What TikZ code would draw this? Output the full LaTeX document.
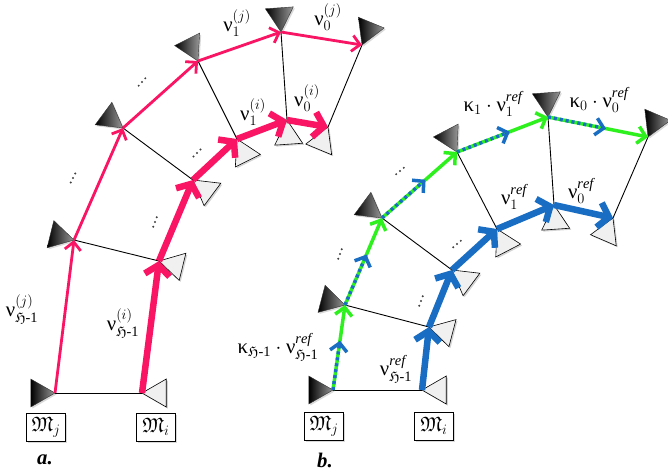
\documentclass[tikz,border=0pt]{standalone}
\usepackage{amsmath,amssymb}
\usepackage{fontspec}
\setmainfont{Liberation Serif}
\usetikzlibrary{arrows.meta,calc,shadows}

\definecolor{pinkline}{RGB}{250,20,100}
\definecolor{blueline}{RGB}{25,110,195}
\definecolor{greenline}{RGB}{45,240,30}

\newcommand{\vnu}{\text{ν}}
\newcommand{\vkappa}{\text{κ}}

\tikzset{
  darktri/.style={left color=black, right color=black!40, draw=black!80, line width=.4pt,
    drop shadow={shadow xshift=1.5pt,shadow yshift=-1.5pt,opacity=.3}},
  lighttri/.style={fill=black!6, draw=black, line width=.6pt,
    drop shadow={shadow xshift=1.5pt,shadow yshift=-1.5pt,opacity=.35}},
  rung/.style={line width=.9pt},
  thinpink/.style={pinkline, line width=2.8pt, -{Straight Barb[length=8pt,width=16pt]}},
  thickpink/.style={pinkline, line width=6.5pt, -{Straight Barb[length=10pt,width=25pt]}},
  thickblue/.style={blueline, line width=6.5pt, -{Straight Barb[length=10pt,width=25pt]}},
  greenarr/.style={greenline, line width=3.5pt, -{Straight Barb[length=8pt,width=17pt]}},
  bluedots/.style={blueline, line width=3.5pt, dash pattern=on 3pt off 3pt,
    -{Straight Barb[length=8pt,width=17pt]}},
  mbox/.style={draw, fill=white, line width=.8pt, minimum width=39pt, minimum height=28pt,
    inner sep=0pt, drop shadow={shadow xshift=1.5pt,shadow yshift=-1.5pt,opacity=.3}}
}

\begin{document}
\begin{tikzpicture}[x=1pt,y=-1pt,font=\huge]
	\useasboundingbox (0,0) rectangle (668,475);
	% a.
	\coordinate (J0) at (55,393);
	\coordinate (J1) at (74,240);
	\coordinate (J2) at (123,128);
	\coordinate (J3) at (198,61);
	\coordinate (J4) at (281,32);
	\coordinate (J5) at (362,45);
	\coordinate (I0) at (142,393);
	\coordinate (I1) at (159,261);
	\coordinate (I2) at (193,180);
	\coordinate (I3) at (237,139);
	\coordinate (I4) at (287,120);
	\coordinate (I5) at (328,127);
	% b.
	\coordinate (K0) at (333,390);
	\coordinate (K1) at (345,305);
	\coordinate (K2) at (382,218);
	\coordinate (K3) at (457,152);
	\coordinate (K4) at (548,117);
	\coordinate (K5) at (648,137);
	\coordinate (L0) at (422,390);
	\coordinate (L1) at (429,327);
	\coordinate (L2) at (452,270);
	\coordinate (L3) at (497,229);
	\coordinate (L4) at (554,205);
	\coordinate (L5) at (613,218);

	\foreach \p/\q in {J0/I0,J1/I1,J2/I2,J3/I3,J4/I4,J5/I5,K0/L0,K1/L1,K2/L2,K3/L3,K4/L4,K5/L5}
		\draw[rung] (\p) -- (\q);
	\foreach \p/\q in {J0/I0,J1/I1,J2/I2,J3/I3,J4/I4,J5/I5,K0/L0,K1/L1,K2/L2,K3/L3,K4/L4,K5/L5}
		\path[darktri] (\p) -- ($(\p)!28pt!150:(\q)$) -- ($(\p)!28pt!210:(\q)$) -- cycle;
	\foreach \p/\q in {I0/J0,I1/J1,I2/J2,I3/J3,I4/J4,I5/J5,L0/K0,L1/K1,L2/K2,L3/K3,L4/K4,L5/K5}
		\path[lighttri] (\p) -- ($(\p)!28pt!150:(\q)$) -- ($(\p)!28pt!210:(\q)$) -- cycle;

	\foreach \p/\q in {J0/J1,J1/J2,J2/J3,J3/J4,J4/J5}
		\draw[thinpink] (\p) -- (\q);
	\foreach \p/\q in {I0/I1,I1/I2,I2/I3,I3/I4,I4/I5}
		\draw[thickpink] (\p) -- (\q);
	\foreach \p/\q in {L0/L1,L1/L2,L2/L3,L3/L4,L4/L5}
		\draw[thickblue] (\p) -- (\q);
	\foreach \p/\q in {K0/K1,K1/K2,K2/K3,K3/K4,K4/K5}{
		\draw[greenarr] (\p) -- (\q);
		\draw[bluedots] (\p) -- ($(\p)!.58!(\q)$);
	}

	% dots between the rungs
	\foreach \x/\y/\a in {73/178/63,142/82/48,197/153/45,155/222/70,340/254/70,400/171/40,421/301/70,457/244/40}
		\foreach \t in {-1,0,1}
			\fill[black!75] ($(\x,\y)+(-\a:\t*5)$) circle (1.1pt);

	\node (vj1) at (237,23) {$\vnu_1^{(j)}$};
	\node (vj0) at (328,17) {$\vnu_0^{(j)}$};
	\node (vi1) at (253,112) {$\vnu_1^{(i)}$};
	\node (vi0) at (307,98) {$\vnu_0^{(i)}$};
	\node (vjh) at (22,309) {$\vnu_{\mathfrak{H}\text{-1}}^{(j)}$};
	\node (vih) at (123,323) {$\vnu_{\mathfrak{H}\text{-1}}^{(i)}$};
	\node[mbox] (Mja) at (46,427) {$\mathfrak{M}_j$};
	\node[mbox] (Mia) at (156,427) {$\mathfrak{M}_i$};
	\node (la) at (45,460) {\textbf{\textit{a.}}};

	\node (k1) at (493,104) {$\vkappa_1\cdot\vnu_1^{\mathit{ref}}$};
	\node (k0) at (599,100) {$\vkappa_0\cdot\vnu_0^{\mathit{ref}}$};
	\node (r1) at (514,197) {$\vnu_1^{\mathit{ref}}$};
	\node (r0) at (581,191) {$\vnu_0^{\mathit{ref}}$};
	\node (kh) at (278,347) {$\vkappa_{\mathfrak{H}\text{-1}}\cdot\vnu_{\mathfrak{H}\text{-1}}^{\mathit{ref}}$};
	\node (rh) at (396,369) {$\vnu_{\mathfrak{H}\text{-1}}^{\mathit{ref}}$};
	\node[mbox] (Mjb) at (324,426) {$\mathfrak{M}_j$};
	\node[mbox] (Mib) at (434,426) {$\mathfrak{M}_i$};
	\node (lb) at (325,460) {\textbf{\textit{b.}}};
\end{tikzpicture}
\end{document}
